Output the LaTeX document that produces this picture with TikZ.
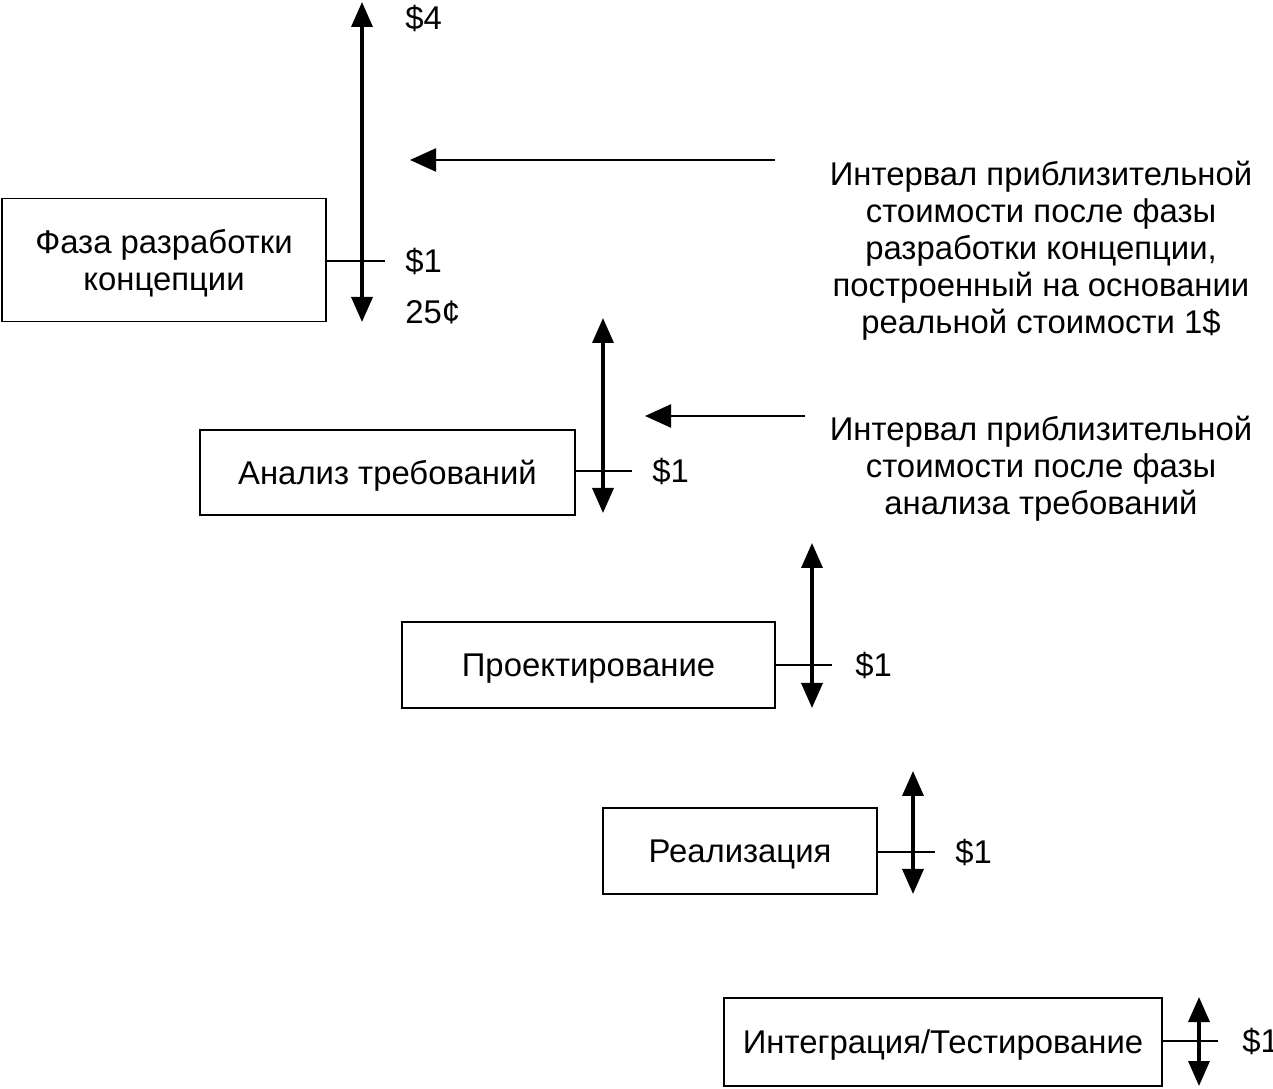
\documentclass[tikz,border=0pt]{standalone}
\usepackage{fontspec}
\setmainfont{Liberation Sans}
\usetikzlibrary{arrows.meta}
\begin{document}
\begin{tikzpicture}[
    phase/.style={draw,line width=1pt,minimum height=1.72cm,align=center,inner sep=0pt,text depth=0pt},
    interval/.style={line width=2pt,{Triangle[length=0.5cm,width=0.42cm]}-{Triangle[length=0.5cm,width=0.42cm]}},
    pointer/.style={line width=1.3pt,-{Triangle[length=0.52cm,width=0.46cm]}},
    tick/.style={line width=1pt},
    cost/.style={anchor=west,inner sep=0pt},
    note/.style={align=center,inner sep=0pt}]
    \useasboundingbox (0,0) rectangle (25.46,21.76);
    \fontsize{18.7}{21}\selectfont
    %% concept phase
    \node[phase,minimum width=6.48cm,minimum height=2.46cm] (concept) at (3.28,16.56) {Фаза разработки\\концепции};
    \coordinate (c1top) at (7.24,21.72);
    \coordinate (c1bot) at (7.24,15.32);
    \draw[interval] (c1bot) -- (c1top);
    \coordinate (c1tick) at (7.70,16.54);
    \draw[tick] (concept.east |- c1tick) -- (c1tick);
    \node[cost] (c1max) at (8.1,21.4) {\$4};
    \node[cost] (c1mid) at (8.1,16.54) {\$1};
    \node[cost] (c1min) at (8.1,15.52) {25¢};
    %% note on the first interval
    \node[note] (note1) at (20.82,16.74) {Интервал приблизительной\\стоимости после фазы\\разработки концепции,\\построенный на основании\\реальной стоимости 1\$};
    \coordinate (n1from) at (15.5,18.56);
    \coordinate (n1to) at (8.2,18.56);
    \draw[pointer] (n1from) -- (n1to);
    %% requirements
    \node[phase,minimum width=7.5cm,minimum height=1.7cm] (req) at (7.75,12.31) {Анализ требований};
    \coordinate (c2top) at (12.06,15.4);
    \coordinate (c2bot) at (12.06,11.5);
    \draw[interval] (c2bot) -- (c2top);
    \coordinate (c2tick) at (12.64,12.34);
    \draw[tick] (req.east |- c2tick) -- (c2tick);
    \node[cost] (c2mid) at (13.04,12.34) {\$1};
    %% note on the second interval
    \node[note] (note2) at (20.82,12.38) {Интервал приблизительной\\стоимости после фазы\\анализа требований};
    \coordinate (n2from) at (16.1,13.44);
    \coordinate (n2to) at (12.9,13.44);
    \draw[pointer] (n2from) -- (n2to);
    %% design
    \node[phase,minimum width=7.46cm] (design) at (11.77,8.46) {Проектирование};
    \coordinate (c3top) at (16.24,10.9);
    \coordinate (c3bot) at (16.24,7.6);
    \draw[interval] (c3bot) -- (c3top);
    \coordinate (c3tick) at (16.64,8.46);
    \draw[tick] (design.east |- c3tick) -- (c3tick);
    \node[cost] (c3mid) at (17.1,8.46) {\$1};
    %% implementation
    \node[phase,minimum width=5.48cm] (impl) at (14.8,4.74) {Реализация};
    \coordinate (c4top) at (18.26,6.34);
    \coordinate (c4bot) at (18.26,3.88);
    \draw[interval] (c4bot) -- (c4top);
    \coordinate (c4tick) at (18.7,4.72);
    \draw[tick] (impl.east |- c4tick) -- (c4tick);
    \node[cost] (c4mid) at (19.1,4.72) {\$1};
    %% integration and testing
    \node[phase,minimum width=8.76cm,minimum height=1.76cm] (integ) at (18.86,0.92) {Интеграция/Тестирование};
    \coordinate (c5top) at (23.98,1.82);
    \coordinate (c5bot) at (23.98,0.04);
    \draw[interval] (c5bot) -- (c5top);
    \coordinate (c5tick) at (24.36,0.94);
    \draw[tick] (integ.east |- c5tick) -- (c5tick);
    \node[cost] (c5mid) at (24.84,0.94) {\$1};
\end{tikzpicture}
\end{document}
